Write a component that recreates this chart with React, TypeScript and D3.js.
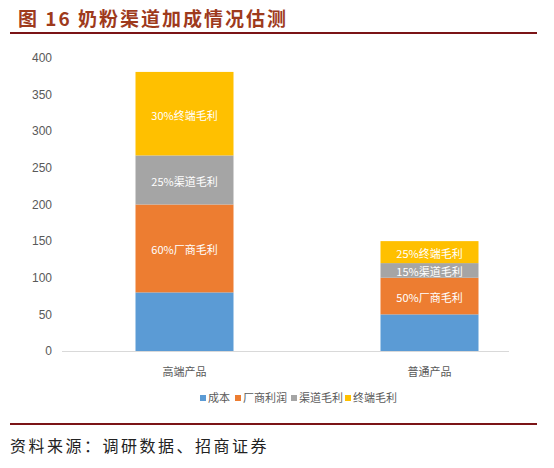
import React, { useEffect, useRef } from "react";
import * as d3 from "d3";

const categories = ["高端产品", "普通产品"];
const seriesNames = ["成本", "厂商利润", "渠道毛利", "终端毛利"];
const seriesColors = ["#5B9BD5", "#ED7D31", "#A5A5A5", "#FFC000"];
const costValues = [80, 50];
const makerValues = [120, 50];
const channelValues = [67, 20];
const terminalValues = [114, 30];
// labels shown inside the segments (empty = none)
const segLabels = [
  ["", ""],
  ["60%厂商毛利", "50%厂商毛利"],
  ["25%渠道毛利", "15%渠道毛利"],
  ["30%终端毛利", "25%终端毛利"],
];
const yTicks = [0, 50, 100, 150, 200, 250, 300, 350, 400];

const W = 554;
const H = 468;
const narrow = "'Liberation Sans Narrow', 'Liberation Sans', sans-serif";
const cjk = "'Noto Sans CJK SC', sans-serif";

function App() {
  const ref = useRef<SVGSVGElement>(null);

  useEffect(() => {
    const svg = d3.select(ref.current);
    svg.selectAll("*").remove();

    // title
    svg.append("text")
      .attr("x", 18).attr("y", 26)
      .attr("fill", "#9E3A1C")
      .attr("font-family", cjk)
      .attr("font-weight", "bold")
      .attr("font-size", 19)
      .attr("letter-spacing", 2)
      .text("图 16  奶粉渠道加成情况估测");
    svg.append("line")
      .attr("x1", 10).attr("x2", 537).attr("y1", 33).attr("y2", 33)
      .attr("stroke", "#7B1416").attr("stroke-width", 2);

    const x = d3.scaleBand<string>()
      .domain(categories)
      .range([62, 552])
      .paddingInner(0.6)
      .paddingOuter(0.3);
    const y = d3.scaleLinear().domain([0, 400]).range([351, 58]);

    // y tick labels
    svg.append("g").selectAll("text")
      .data(yTicks)
      .join("text")
      .attr("x", 52)
      .attr("y", (d) => y(d))
      .attr("dy", "0.35em")
      .attr("text-anchor", "end")
      .attr("fill", "#595959")
      .attr("font-family", narrow)
      .attr("font-size", 12)
      .text((d) => d);

    const rows = categories.map((c, i) => ({
      cat: c,
      s0: costValues[i],
      s1: makerValues[i],
      s2: channelValues[i],
      s3: terminalValues[i],
    }));
    const stacked = d3.stack<any>().keys(["s0", "s1", "s2", "s3"])(rows);

    stacked.forEach((layer, li) => {
      const g = svg.append("g");
      g.selectAll("rect")
        .data(layer)
        .join("rect")
        .attr("x", (d: any) => x(d.data.cat)!)
        .attr("width", x.bandwidth())
        .attr("y", (d) => y(d[1]))
        .attr("height", (d) => y(d[0]) - y(d[1]))
        .attr("fill", seriesColors[li]);
      g.selectAll("text")
        .data(layer)
        .join("text")
        .attr("x", (d: any) => x(d.data.cat)! + x.bandwidth() / 2)
        .attr("y", (d) => (y(d[0]) + y(d[1])) / 2 + 2)
        .attr("dy", "0.35em")
        .attr("text-anchor", "middle")
        .attr("fill", "#ffffff")
        .attr("font-family", cjk)
        .attr("font-size", 11)
        .text((d, i) => segLabels[li][i]);
    });

    // baseline
    svg.append("line")
      .attr("x1", 62).attr("x2", 509).attr("y1", y(0) + 0.5).attr("y2", y(0) + 0.5)
      .attr("stroke", "#D9D9D9").attr("stroke-width", 1);

    // category labels
    svg.append("g").selectAll("text")
      .data(categories)
      .join("text")
      .attr("x", (d) => x(d)! + x.bandwidth() / 2)
      .attr("y", 372)
      .attr("dy", "0.35em")
      .attr("text-anchor", "middle")
      .attr("fill", "#595959")
      .attr("font-family", cjk)
      .attr("font-size", 11)
      .text((d) => d);

    // legend
    const legendX = [200, 235, 291, 345];
    const lg = svg.append("g");
    seriesNames.forEach((name, i) => {
      lg.append("rect")
        .attr("x", legendX[i]).attr("y", 395)
        .attr("width", 6).attr("height", 6)
        .attr("fill", seriesColors[i]);
      lg.append("text")
        .attr("x", legendX[i] + 8).attr("y", 398)
        .attr("dy", "0.35em")
        .attr("fill", "#595959")
        .attr("font-family", cjk)
        .attr("font-size", 11)
        .text(name);
    });

    // bottom rule and source
    svg.append("line")
      .attr("x1", 10).attr("x2", 537).attr("y1", 424).attr("y2", 424)
      .attr("stroke", "#7B1416").attr("stroke-width", 2);
    svg.append("text")
      .attr("x", 10).attr("y", 452)
      .attr("fill", "#222222")
      .attr("font-family", cjk)
      .attr("font-size", 16)
      .attr("letter-spacing", 2.5)
      .text("资料来源：调研数据、招商证券");
  }, []);

  return (
    <svg
      ref={ref}
      width={W}
      height={H}
      style={{ position: "absolute", left: 0, top: 0, background: "#ffffff" }}
    />
  );
}

export default App;
